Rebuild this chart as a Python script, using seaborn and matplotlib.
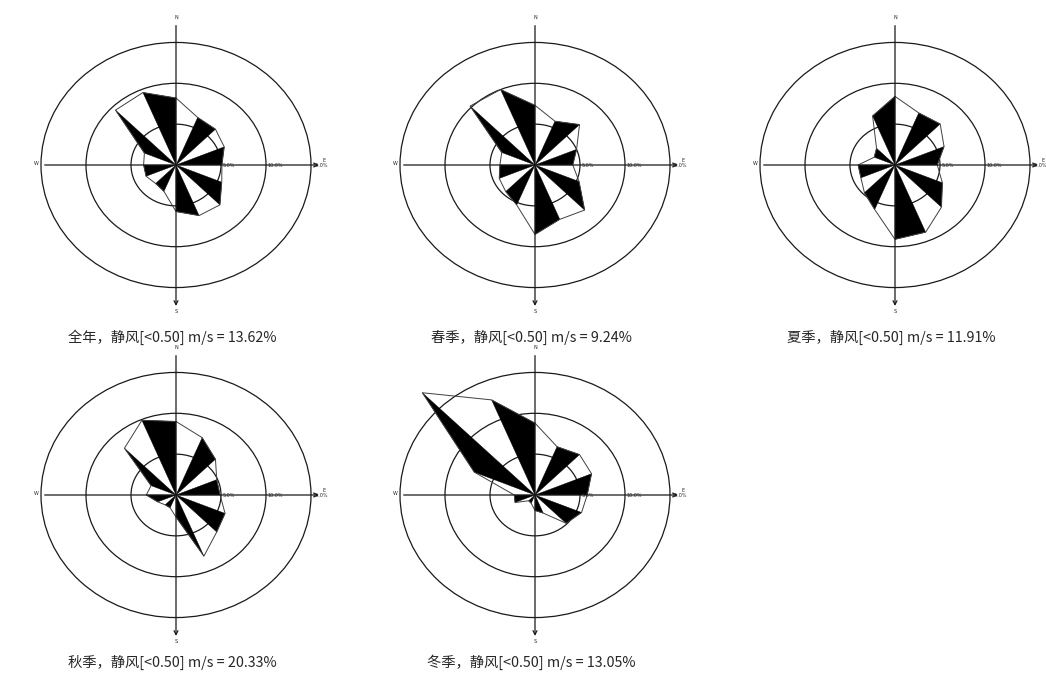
import numpy as np
import pandas as pd
import seaborn as sns
import matplotlib.pyplot as plt
from matplotlib.patches import Ellipse, Polygon

# 16 个风向，顺时针从 N 开始
DIRS = ["N", "NNE", "NE", "ENE", "E", "ESE", "SE", "SSE",
        "S", "SSW", "SW", "WSW", "W", "WNW", "NW", "NNW"]

# 各风向频率 (%)
annual = [8.2, 6.3, 6.2, 5.8, 5.1, 5.5, 6.9, 6.7, 5.7, 3.5, 3.2, 3.6, 3.6, 3.8, 9.5, 9.6]
spring = [7.3, 5.8, 7.0, 5.0, 4.2, 5.3, 7.8, 7.2, 8.5, 5.3, 4.6, 4.3, 3.9, 4.0, 10.2, 10.0]
summer = [8.4, 6.9, 7.1, 5.9, 4.7, 5.7, 7.3, 8.9, 9.1, 5.9, 4.8, 4.1, 4.1, 2.5, 2.9, 6.5]
autumn = [9.0, 7.6, 6.2, 4.9, 4.9, 5.9, 6.4, 8.1, 2.7, 1.7, 1.7, 2.2, 3.3, 3.0, 8.1, 9.9]
winter = [8.8, 6.4, 7.0, 6.8, 5.8, 5.6, 4.9, 2.4, 1.9, 1.1, 1.0, 2.4, 2.3, 7.3, 17.7, 12.6]

seasons = ["全年", "春季", "夏季", "秋季", "冬季"]
calm = [13.62, 9.24, 11.91, 20.33, 13.05]
calm_limit = 0.50
ring_levels = [5, 10, 15]

# --- 版面 (像素) ---
W_PX, H_PX = 1046, 673
centers = [(176, 165), (535, 165), (895, 165), (176, 495), (535, 495)]
caption_dy = [172, 172, 172, 167, 167]
PX_X, PX_Y = 9.0, 8.17   # 每 1% 对应的像素

sns.set_theme(style="white")
plt.rcParams['font.family'] = ['Noto Sans CJK SC', 'DejaVu Sans']

fig = plt.figure(figsize=(W_PX / 100, H_PX / 100), dpi=100)
fig.patch.set_facecolor("white")

half_w, half_h = 150, 160
for k, freqs in enumerate([annual, spring, summer, autumn, winter]):
    cx, cy = centers[k]
    rect = [(cx - half_w) / W_PX, (H_PX - cy - half_h) / H_PX,
            2 * half_w / W_PX, 2 * half_h / H_PX]
    ax = fig.add_axes(rect)
    ax.set_xlim(-half_w / PX_X, half_w / PX_X)
    ax.set_ylim(-half_h / PX_Y, half_h / PX_Y)
    ax.set_aspect('auto')
    ax.axis('off')

    df = pd.DataFrame({"dir": DIRS, "freq": freqs})
    theta = np.deg2rad(np.arange(len(DIRS)) * 22.5)
    df["x"] = df["freq"] * np.sin(theta)
    df["y"] = df["freq"] * np.cos(theta)

    # 同心圆
    for lv in ring_levels:
        ax.add_patch(Ellipse((0, 0), 2 * lv, 2 * lv, fill=False,
                             ec="#1a1a1a", lw=0.9, zorder=1, clip_on=False))
        ax.text(lv + 0.2, -0.05, f"{lv:.1f}%", fontsize=3.5, va="center",
                ha="left", family="DejaVu Sans", zorder=7)

    # 黑白相间三角形
    n = len(df)
    for i in range(n):
        j = (i + 1) % n
        if i % 2 == 1:
            tri = [(0, 0), (df.x[i], df.y[i]), (df.x[j], df.y[j])]
            ax.add_patch(Polygon(tri, closed=True, fc="black", ec="black",
                                 lw=0.3, zorder=2, clip_on=False))

    # 外轮廓
    outline = pd.concat([df, df.iloc[[0]]], ignore_index=True)
    sns.lineplot(data=outline, x="x", y="y", sort=False, estimator=None,
                 color="#404040", lw=0.7, ax=ax, zorder=3)
    ax.set_xlabel("")
    ax.set_ylabel("")

    # 坐标轴十字线
    ax.annotate("", xy=(16.2, 0), xytext=(-14.9, 0),
                arrowprops=dict(arrowstyle="->", lw=0.9, color="#1a1a1a",
                                mutation_scale=7), zorder=5)
    ax.annotate("", xy=(0, -17.6), xytext=(0, 17.4),
                arrowprops=dict(arrowstyle="->", lw=0.9, color="#1a1a1a",
                                mutation_scale=7), zorder=5)
    ax.text(0, 18.1, "N", fontsize=3.5, ha="center", va="center", family="DejaVu Sans")
    ax.text(-15.5, 0.2, "W", fontsize=3.5, ha="center", va="center", family="DejaVu Sans")
    ax.text(16.5, 0.6, "E", fontsize=3.5, ha="center", va="center", family="DejaVu Sans")
    ax.text(0, -17.9, "S", fontsize=3.5, ha="center", va="center", family="DejaVu Sans")

    # 标题
    label = f"{seasons[k]}，静风[<{calm_limit:.2f}] m/s = {calm[k]:.2f}%"
    fig.text((cx - 4) / W_PX, 1 - (cy + caption_dy[k]) / H_PX, label,
             fontsize=10.3, ha="center", va="center")

plt.savefig("out.png", dpi=100, facecolor="white")
